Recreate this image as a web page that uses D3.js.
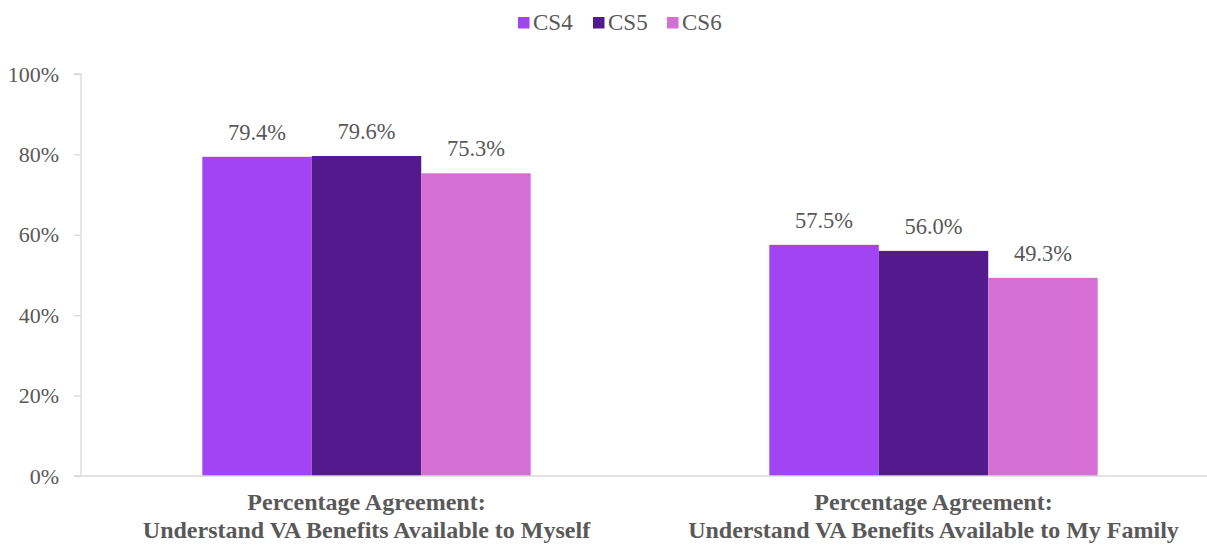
<!DOCTYPE html>
<html><head><meta charset="utf-8">
<script src="https://cdn.jsdelivr.net/npm/d3@7"></script>
<style>body{margin:0;background:#fff}svg{display:block}svg text{font-family:"Liberation Serif","DejaVu Serif",serif}</style>
</head><body>
<svg id="c" width="1207" height="545"></svg>
<script>
const categories = [
  ["Percentage Agreement:", "Understand VA Benefits Available to Myself"],
  ["Percentage Agreement:", "Understand VA Benefits Available to My Family"]
];
const seriesNames = ["CS4", "CS5", "CS6"];
const cs4 = [79.4, 57.5];
const cs5 = [79.6, 56.0];
const cs6 = [75.3, 49.3];
const yTicks = [0, 20, 40, 60, 80, 100];
const colors = ["#A044F4", "#521A8C", "#D56FD6"];
const series = [cs4, cs5, cs6];

const svg = d3.select("#c");
const font = "Liberation Serif";
const txt = "#595959";
const W = 1207, H = 545;
const x0 = d3.scaleBand().domain(d3.range(categories.length)).range([83, 1217]).paddingInner(0).paddingOuter(0);
const x1 = d3.scaleBand().domain(d3.range(seriesNames.length)).range([0, x0.bandwidth()]).paddingInner(0).paddingOuter(1.09);
const y = d3.scaleLinear().domain([0, 100]).range([476, 74]);
const axX = 81;

// y axis
const ya = svg.append("g").attr("transform", `translate(${axX},0)`)
  .call(d3.axisLeft(y).tickValues(yTicks).tickFormat(d => d + "%").tickSize(7).tickPadding(15));
ya.select(".domain").attr("stroke", "#d9d9d9").attr("stroke-width", 1.3).attr("d", `M-7,${y(100)}H0V${y(0)}`);
ya.selectAll(".tick line").attr("stroke", "#d9d9d9").attr("stroke-width", 1.3);
ya.selectAll(".tick text").attr("fill", txt).attr("font-family", font).attr("font-size", 22);

// bars
const g = svg.append("g");
categories.forEach((c, i) => {
  series.forEach((s, j) => {
    const bx = x0(i) + x1(j);
    g.append("rect").attr("x", bx).attr("y", y(s[i])).attr("width", x1.bandwidth()).attr("height", y(0) - y(s[i])).attr("fill", colors[j]);
    g.append("text").attr("x", bx + x1.bandwidth() / 2).attr("y", y(s[i]) - 17)
      .attr("text-anchor", "middle").attr("fill", txt).attr("font-family", font).attr("font-size", 22.5)
      .text(s[i].toFixed(1) + "%");
  });
  c.forEach((line, k) => {
    svg.append("text").attr("x", x0(i) + x0.bandwidth() / 2).attr("y", 510 + k * 28)
      .attr("text-anchor", "middle").attr("fill", txt).attr("font-family", font).attr("font-size", 24).attr("font-weight", "bold")
      .text(line);
  });
});

// baseline
svg.append("line").attr("x1", axX - 7).attr("x2", W).attr("y1", y(0)).attr("y2", y(0)).attr("stroke", "#d9d9d9").attr("stroke-width", 1.3);

// legend
const lg = svg.append("g");
const lx = [518, 593, 667];
seriesNames.forEach((n, j) => {
  lg.append("rect").attr("x", lx[j]).attr("y", 17).attr("width", 11.5).attr("height", 11.5).attr("fill", colors[j]);
  lg.append("text").attr("x", lx[j] + 15).attr("y", 30).attr("fill", txt).attr("font-family", font).attr("font-size", 23).text(n);
});
</script>
</body></html>
